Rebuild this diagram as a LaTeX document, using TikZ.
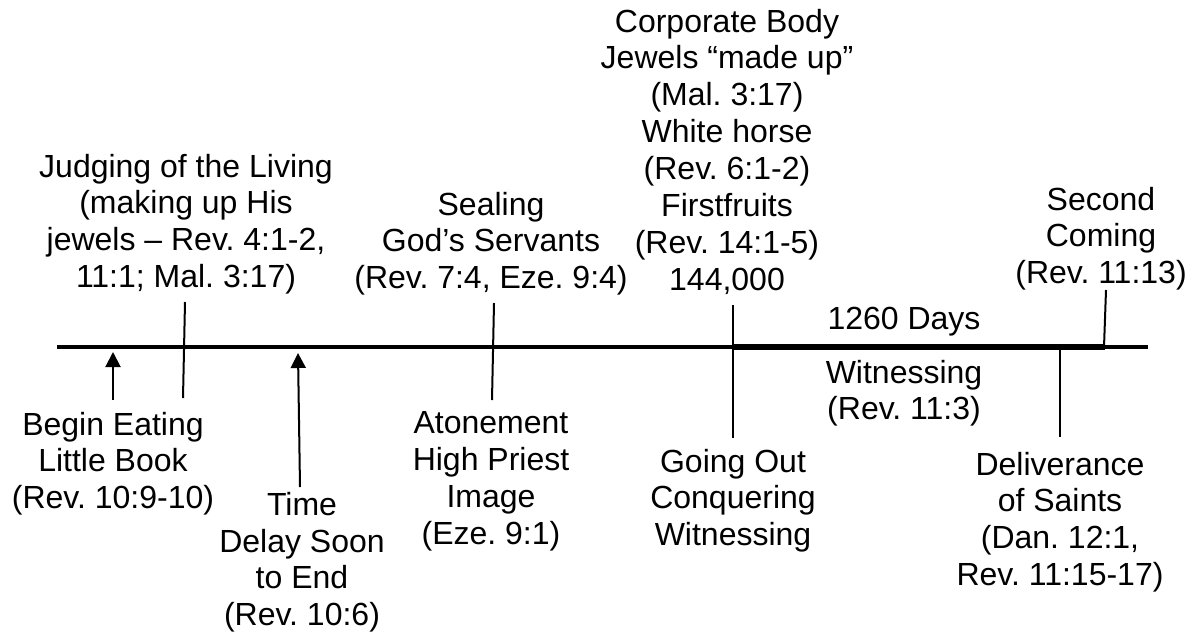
\documentclass[tikz,border=0pt]{standalone}
\usepackage{fontspec}
\setmainfont{Liberation Sans}
\usetikzlibrary{arrows.meta}

\begin{document}
\frenchspacing
\begin{tikzpicture}[x=0.5pt,y=-0.5pt,
    every node/.style={font=\fontsize{16pt}{18.45pt}\selectfont,align=center,inner sep=0pt,anchor=north},
    time line/.style={line width=2pt},
    thick line/.style={line width=2.7pt},
    tick line/.style={line width=1pt},
    up arrow/.style={line width=1pt,-{Triangle[length=7.5pt,width=7.5pt]}}]
    \useasboundingbox (0,0) rectangle (1199,633);

    % labels above the line
    \node (judge) at (186,153.5) {Judging of the Living\\(making up His\\jewels – Rev. 4:1-2,\\11:1; Mal. 3:17)};
    \node (seal) at (491,191.5) {Sealing\\God’s Servants\\(Rev. 7:4, Eze. 9:4)};
    \node (body) at (727,8.5) {Corporate Body\\Jewels “made up”\\(Mal. 3:17)\\White horse\\(Rev. 6:1-2)\\Firstfruits\\(Rev. 14:1-5)\\144,000};
    \node (days) at (904,306.5) {1260 Days};
    \node (second) at (1101,186.5) {Second\\Coming\\(Rev. 11:13)};

    % labels below the line
    \node (witness) at (904,359.5) {Witnessing\\(Rev. 11:3)};
    \node (eat) at (113,411.5) {Begin Eating\\Little Book\\(Rev. 10:9-10)};
    \node (delay) at (302,491.5) {Time\\Delay Soon\\to End\\(Rev. 10:6)};
    \node (atone) at (491,411.5) {Atonement\\High Priest\\Image\\(Eze. 9:1)};
    \node (going) at (733,448.5) {Going Out\\Conquering\\Witnessing};
    \node (saints) at (1060,451.5) {Deliverance\\of Saints\\(Dan. 12:1,\\Rev. 11:15-17)};

    % the time line
    \coordinate (start) at (57,347);
    \coordinate (end) at (1148,347);
    \coordinate (p1) at (733,347);
    \coordinate (p2) at (1105,347);
    \draw[time line] (start) -- (end);
    \draw[thick line] (p1) -- (p2);

    % ticks and arrows
    \coordinate (a1) at (113,400);
    \coordinate (a2) at (113,352);
    \coordinate (b1) at (300,487);
    \coordinate (b2) at (298,353);
    \coordinate (j1) at (185,302);
    \coordinate (j2) at (183,398);
    \coordinate (s1) at (494,303);
    \coordinate (s2) at (492,400);
    \coordinate (g1) at (733,305);
    \coordinate (g2) at (733,438);
    \coordinate (c1) at (1106,290);
    \coordinate (c2) at (1104,347);
    \coordinate (d1) at (1060,347);
    \coordinate (d2) at (1060,437);

    \draw[up arrow] (a1) -- (a2);
    \draw[up arrow] (b1) -- (b2);
    \draw[tick line] (j1) -- (j2);
    \draw[tick line] (s1) -- (s2);
    \draw[tick line] (g1) -- (g2);
    \draw[tick line] (c1) -- (c2);
    \draw[tick line] (d1) -- (d2);

\end{tikzpicture}
\end{document}
